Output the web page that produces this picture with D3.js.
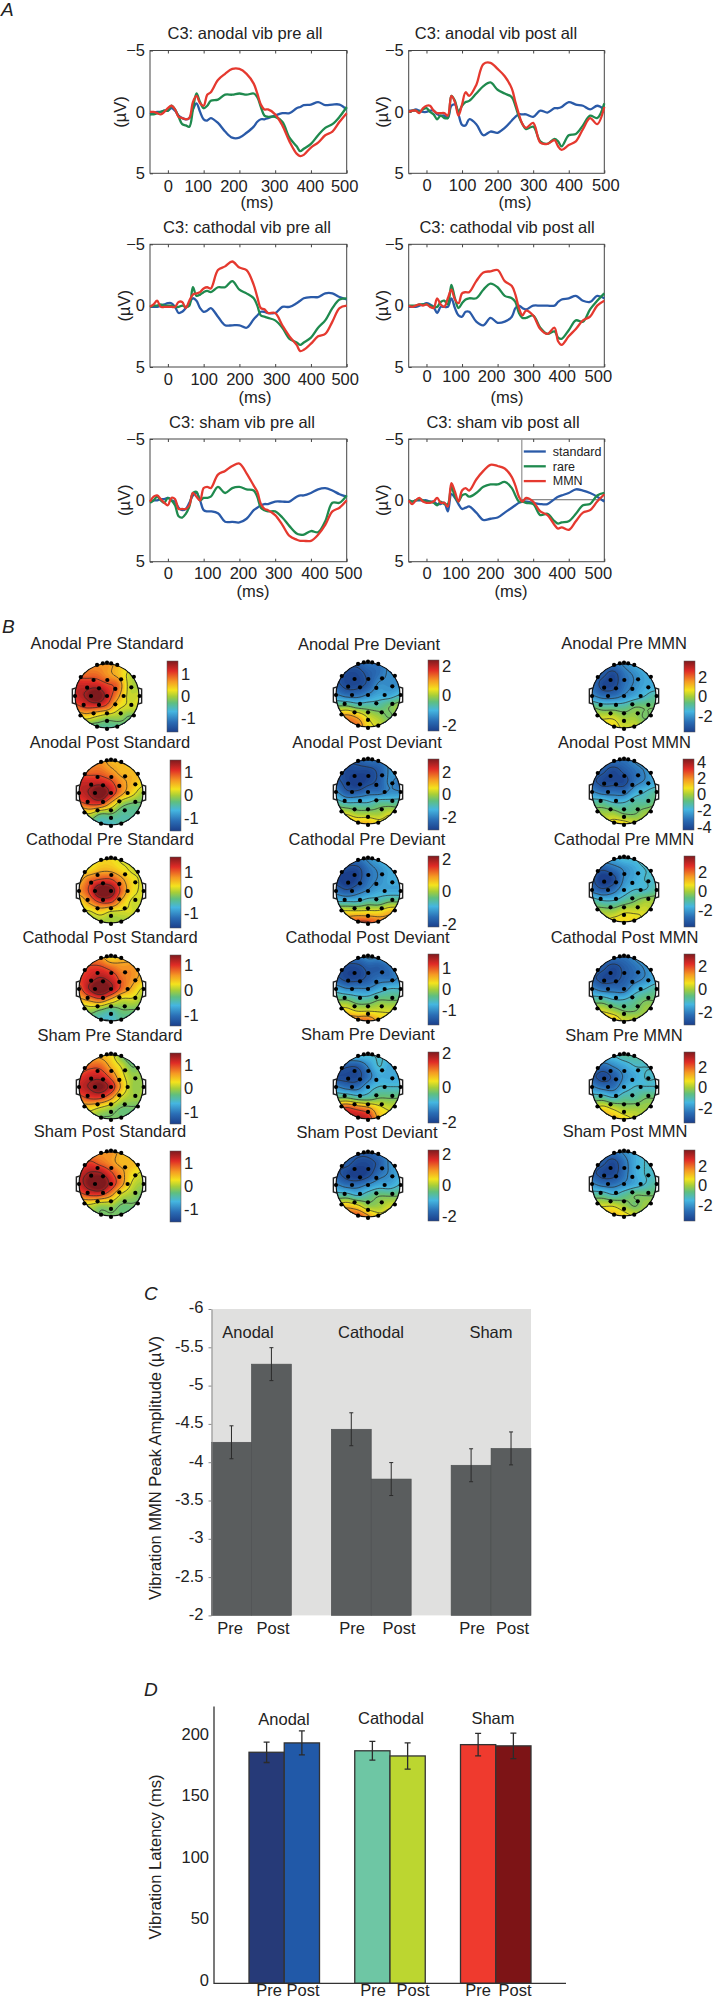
<!DOCTYPE html>
<html>
<head>
<meta charset="utf-8">
<script src="https://cdn.jsdelivr.net/npm/d3@7"></script>
<style>
    body { margin: 0; background: #fff; }
    svg text { font-family: "Liberation Sans", Arial, sans-serif; font-size: 16.5px; fill: #222; }
    svg text.letter { font-size: 19px; font-style: italic; }
    svg text.legend { font-size: 12.5px; }
</style>
</head>
<body>
<svg id="chart"></svg>
<script>
// panel A, time grid in ms, all traces below are read at these points
const times = [-50,-40,-30,-20,-10,0,10,20,30,40,50,60,70,80,90,100,110,120, 140,160,180,200,220,240, 250,260,270,280, 300,320,340,360, 370,380, 400,420,440,460,480,500];

const anodalPreStandard = [.2,.1,0,0,-.1,-.1,-.3,-.1,.3,.5,.6,.5,-.2,-.7,0,.6,.7,.5, .9,1.6,2.1,2.1,1.7,1.2, .8,.6,.6,.5, .3,.1,.1,-.3, -.4,-.55, -.6,-.8,-.55,-.6,-.6,-.2];
const anodalPreRare = [.2,.2,.1,0,-.1,-.1,-.5,-.2,.4,1.0,1.1,1.2,-.2,-1.5,-.8,-.3,-.5,-.9, -1.0,-1.4,-1.4,-1.5,-1.4,-1.5, -1.2,-.4,.3,.4, .4,.8,2.1,2.8, 3.2,3.0, 2.6,1.9,1.3,1.0,.4,-.4];
const anodalPreMmn = [0,0,.1,.2,0,-.3,-.5,-.2,.4,.5,.6,.5,-.8,-1.3,-.7,-.5,-1.4,-1.6, -2.6,-3.1,-3.5,-3.5,-3.1,-2.3, -1.5,-.6,-.2,-.2, .2,1.1,2.4,3.4, 3.6,3.5, 2.9,2.5,1.9,1.6,.8,.1];

const anodalPostStandard = [-.1,-.1,-.2,-.1,0,0,-.1,-.1,.2,.3,.3,.5,-.5,-.6,.2,1.05,1.1,.6, 1.0,1.9,1.6,1.7,1.3,.7, .4,.2,.2,.2, .4,-.1,.05,-.3, -.3,-.4, -.8,-.6,-.5,-.2,-.5,-.2];
const anodalPostRare = [0,-.1,-.1,0,-.2,-.3,0,.2,.6,.3,.5,.5,-1.3,-.9,0,-.5,-.8,-.9, -1.5,-2.1,-2.4,-1.8,-1.5,-1.2, -.5,.4,1,1.4, 1.2,2.4,2.6,2.2, 2.4,2.8, 1.9,1.8,1.1,.3,.5,-.7];
const anodalPostMmn = [0,-.1,-.1,.1,-.3,-.5,-.5,-.1,.1,.1,.1,.3,-1.3,-.8,.3,-.6,-1.6,-1.3, -2.2,-3.9,-4.0,-3.5,-2.9,-1.9, -.8,.2,1.0,1.3, .9,2.5,2.6,2.3, 2.8,3.1, 2.7,2.4,1.4,.5,1,-.4];

const cathodalPreStandard = [.1,.1,.1,0,-.1,-.2,-.2,.1,.6,.5,.2,-.2,-.6,-.4,.2,.5,.4,.2, .9,1.6,1.6,1.6,1.8,1.1, .8,.5,.5,.6, .6,.1,.1,-.2, -.4,-.6, -.7,-.7,-1,-1,-.7,-.5];
const cathodalPreRare = [.1,0,0,-.1,0,0,0,.1,.1,0,.1,0,-1.5,-.8,-.9,-1.1,-1.2,-1.1, -1.5,-1.5,-2.0,-1.3,-1,-.6, 0,.8,.9,1.0, 1.2,1.8,2.7,3.0, 3.2,3.0, 2.6,1.8,1.2,.2,-.5,-.6];
const cathodalPreMmn = [.1,-.1,-.4,.1,.1,.1,.1,.1,-.3,-.3,.2,-.4,-.9,-1,-1.1,-1.4,-1.5,-1.4, -2.9,-3.2,-3.6,-3.1,-2.9,-1.7, -.7,.2,.3,.6, .6,1.6,2.5,3.2, 3.7,3.6, 3.1,2.5,2.3,1.3,.2,0];

const cathodalPostStandard = [.1,.1,.1,0,-.1,-.2,-.1,.1,.6,.1,.1,.1,-.6,.2,.8,.9,.5,.5, 1.3,1.6,1.0,1.4,1.3,.9, .2,0,.2,.3, 0,0,0,0, -.3,-.5, -.6,-.8,-.4,-.3,-.8,-.6];
const cathodalPostRare = [0,0,0,-.1,-.1,-.1,0,.1,.1,-.3,-.4,-.1,-1.7,-.6,.2,-.2,-.5,-.6, -.6,-1.3,-1.8,-1.5,-.8,-.6, -.3,.6,1.0,1.0, .8,1.8,2.3,2.1, 2.6,2.7, 2.0,1.2,1.3,.3,-.4,-1.0];
const cathodalPostMmn = [0,.1,0,-.1,0,-.1,.1,.2,-.6,-.1,.1,-.6,-1.3,-.5,-.2,-1,-1.1,-1.1, -2,-2.7,-2.8,-2.9,-2.0,-1.6, -.9,.2,.8,.4, .8,1.9,2.3,1.8, 2.9,3.2, 2.5,1.9,1.2,.9,0,-.4];

const shamPreStandard = [.1,0,0,-.1,-.1,-.2,0,.1,.6,.8,.7,.2,-.4,-.6,0,.8,.9,.9, 1.05,1.75,1.75,1.8,1.5,.8, .6,.4,.3,.3, .1,.1,.1,-.3, -.4,-.4, -.6,-.9,-1,-.8,-.5,-.3];
const shamPreRare = [.2,0,-.3,0,.2,-.2,0,.4,1.3,1.4,1.1,.5,-.6,-.7,0,-.2,-.2,-.3, -1.1,-.6,-1,-1.1,-.9,-.8, -.3,.6,.8,.9, .9,1.4,2.1,2.7, 2.8,2.8, 2.5,2.6,1.7,.2,.2,-.4];
const shamPreMmn = [.1,-.3,-.4,-.1,.2,.4,-.2,-.1,.7,.7,.7,.4,-.6,-.3,0,-1,-1.1,-1, -2.1,-2.4,-2.8,-3,-2.2,-1.2, -.7,.3,.7,.8, 1.2,2,2.9,3.2, 3.3,3.3, 3.3,2.8,2.0,.9,.6,0];

const shamPostStandard = [0,.1,0,0,0,0,.1,.1,.3,.3,.2,.9,-.5,-.2,.3,.7,.6,.5, 1,1.6,1.5,1.4,1.0,.6, .4,.2,.1,.1, .2,.3,.3,-.1, -.3,-.4, -.6,-.9,-.8,-.6,-.3,.1];
const shamPostRare = [0,.1,0,-.1,0,.1,.1,.2,.4,.1,.3,.3,-1.1,-.3,.1,-.4,-.5,-.3, -.6,-1.1,-1.3,-1.3,-1.5,-1, -.4,.1,.1,.2, .3,1.2,1.1,1.7, 1.9,1.8, 1.7,1.1,.4,.3,-.4,-.6];
const shamPostMmn = [0,.3,0,-.2,.1,.2,.2,.1,-.2,.2,.2,.5,-1.4,-.7,.1,-.8,-1,-.8, -1.7,-2.4,-2.9,-2.8,-2.6,-1.9, -1.2,-.3,.1,-.2, .1,.9,1.2,2, 2.3,2.2, 2.4,1.7,1,.8,.1,-.5];

const seriesNames = ['standard', 'rare', 'MMN'];
const seriesColors = ['#2a5aa8', '#1f8a4e', '#e5392f'];

const erpTitles = ['C3: anodal vib pre all', 'C3: anodal vib post all', 'C3: cathodal vib pre all', 'C3: cathodal vib post all', 'C3: sham vib pre all', 'C3: sham vib post all'];
const erpTraces = [
    [anodalPreStandard, anodalPreRare, anodalPreMmn],
    [anodalPostStandard, anodalPostRare, anodalPostMmn],
    [cathodalPreStandard, cathodalPreRare, cathodalPreMmn],
    [cathodalPostStandard, cathodalPostRare, cathodalPostMmn],
    [shamPreStandard, shamPreRare, shamPreMmn],
    [shamPostStandard, shamPostRare, shamPostMmn]
];

// panel B, colour level on each map in tenths of its colour bar, 7x7 over the head, top row first
const electrodes = [[-.31,-.97],[-.13,-1.02],[0,-1.04],[.13,-1.02],[.32,-.97],[-.82,-.59],[-.42,-.5],[.01,-.5],[.44,-.52],[.84,-.6],[-.62,-.26],[-.25,-.24],[.26,-.22],[.76,-.27],[-1,0],[-.5,0],[0,0],[.52,0],[1.02,0],[-.73,.28],[-.25,.28],[.26,.26],[.76,.28],[-.83,.61],[-.42,.54],[0,.54],[.43,.54],[.84,.61],[0,.78],[-.31,.96],[0,1.03],[.32,.96]];

const standardMaps = [
    [[4,4,4,4,3,2,1],[5,5,5,4,3,1,0],[7,7,7,6,5,1,0],[7,8,10,7,4,1,1],[5,6,6,5,2,1,1],[1,2,1,0,0,-1,-1],[-1,-2,-2,-2,-2,-1,-1]],
    [[4,4,4,3,3,2,1],[5,5,5,4,3,3,3],[7,7,7,6,4,3,2],[7,8,10,7,4,2,0],[5,6,6,3,0,-1,-1],[0,1,-1,-1,-2,-2,-2],[-2,-2,-3,-3,-2,-2,-2]],
    [[1,1,2,2,1,1,0],[2,2,3,3,2,1,1],[3,5,6,6,4,2,1],[4,6,10,9,5,2,1],[2,4,6,6,3,1,1],[1,1,2,1,1,1,0],[0,0,0,0,0,0,0]],
    [[4,4,4,2,3,3,3],[5,6,6,5,4,4,3],[6,7,8,7,5,4,3],[5,8,10,8,5,3,1],[3,4,5,3,1,1,0],[-1,0,-1,-2,-1,-1,-1],[-2,-2,-3,-3,-2,-2,-2]],
    [[3,3,3,2,-1,-2,0],[4,5,5,3,1,-1,0],[6,7,7,5,2,0,0],[7,8,9,7,3,0,0],[5,6,6,4,1,0,0],[2,2,1,0,-1,-1,-1],[0,0,-1,-1,-1,-1,-1]],
    [[4,4,4,4,3,2,1],[5,6,5,4,3,3,2],[7,8,8,6,4,2,1],[7,9,10,7,4,1,0],[5,6,6,4,1,0,-1],[1,1,0,0,-1,-1,-1],[0,0,-1,-1,-1,-1,-1]]
];
const deviantMaps = [
    [[-7,-7,-7,-6,-6,-5,-4],[-7,-8,-8,-7,-6,-5,-5],[-7,-8,-8,-7,-5,-5,-5],[-5,-6,-6,-5,-4,-4,-3],[-1,-1,-2,-2,-2,-1,0],[3,4,3,1,0,-1,0],[4,5,5,2,1,0,0]],
    [[-6,-7,-7,-6,-6,-5,-4],[-7,-8,-8,-8,-7,-5,-4],[-7,-8,-9,-8,-7,-5,-6],[-5,-7,-7,-6,-6,-5,-5],[-2,-3,-3,-3,-2,-2,-2],[1,1,0,0,0,1,0],[2,3,3,3,2,2,1]],
    [[-5,-6,-6,-5,-4,-3,-3],[-7,-8,-8,-6,-5,-4,-4],[-8,-9,-8,-6,-5,-4,-4],[-6,-7,-6,-5,-4,-4,-4],[-3,-3,-3,-2,-2,-1,-1],[2,2,2,2,2,3,3],[5,5,6,6,5,4,3]],
    [[-6,-6,-6,-5,-5,-4,-3],[-7,-8,-8,-7,-7,-6,-4],[-7,-8,-8,-7,-6,-6,-5],[-4,-5,-5,-5,-4,-3,-3],[-1,-1,-2,-2,-1,-1,-1],[2,2,1,1,1,1,1],[4,5,5,5,3,2,2]],
    [[-3,-3,-3,-3,-3,-3,-3],[-6,-7,-7,-5,-3,-4,-4],[-8,-8,-8,-6,-4,-4,-4],[-5,-6,-6,-4,-3,-3,-3],[-1,-1,-2,-2,-1,-1,-1],[5,6,5,4,2,1,1],[6,7,8,7,3,2,1]],
    [[-6,-6,-7,-7,-6,-5,-4],[-7,-7,-8,-8,-7,-5,-4],[-7,-8,-9,-8,-6,-5,-4],[-5,-6,-6,-5,-4,-4,-3],[-2,-2,-3,-2,-1,-1,-1],[2,3,2,0,0,1,1],[4,5,6,4,2,2,1]]
];
const mmnMaps = [
    [[-5,-6,-6,-5,-4,-3,-3],[-6,-7,-8,-6,-5,-4,-4],[-6,-8,-8,-6,-5,-4,-4],[-5,-6,-6,-5,-4,-3,-2],[-1,-2,-2,-2,-1,-1,-1],[1,1,1,0,0,-1,0],[1,2,2,1,1,0,0]],
    [[-5,-6,-6,-6,-5,-4,-3],[-6,-7,-8,-7,-6,-5,-3],[-7,-8,-8,-8,-6,-5,-4],[-5,-6,-6,-6,-4,-3,-2],[-2,-2,-3,-3,-2,-2,-1],[0,0,0,-1,-1,0,0],[1,1,2,2,1,0,0]],
    [[-4,-4,-4,-3,-3,-2,-2],[-6,-7,-6,-5,-4,-3,-3],[-7,-9,-8,-5,-4,-3,-3],[-6,-7,-6,-4,-3,-3,-2],[-2,-3,-3,-2,-1,0,0],[0,0,0,1,1,1,0],[1,1,2,2,2,1,1]],
    [[-5,-6,-6,-6,-5,-4,-3],[-6,-7,-8,-7,-6,-5,-4],[-7,-8,-8,-7,-6,-5,-4],[-5,-6,-6,-6,-4,-3,-2],[-2,-2,-3,-3,-2,-1,-1],[1,1,0,-1,-1,0,0],[2,3,3,1,1,0,0]],
    [[-3,-3,-3,-2,-2,-2,-2],[-5,-6,-5,-4,-3,-3,-3],[-7,-8,-7,-5,-4,-3,-3],[-5,-6,-6,-4,-3,-3,-3],[-2,-2,-3,-2,-2,-1,-1],[1,2,1,0,0,0,0],[2,3,3,2,1,0,0]],
    [[-5,-6,-6,-5,-4,-3,-3],[-6,-7,-8,-6,-4,-3,-3],[-7,-8,-8,-6,-4,-3,-3],[-5,-6,-6,-5,-4,-3,-2],[-2,-2,-3,-2,-1,-1,-1],[1,1,1,0,-1,0,0],[2,3,3,2,1,0,0]]
];
const mapRows = ['Anodal Pre', 'Anodal Post', 'Cathodal Pre', 'Cathodal Post', 'Sham Pre', 'Sham Post'];
const mapKinds = ['Standard', 'Deviant', 'MMN'];
// colour bar half range and labelled ticks, same order as the maps
const barMax = [[1.6,1.55,1.75,1.42,1.52,1.54], [2.4,3.15,2.2,1.7,2.05,2.28], [3.6,4.4,3.7,3.1,3.5,3.6]];
const barTicks = [
    [[-1,0,1],[-1,0,1],[-1,0,1],[-1,0,1],[-1,0,1],[-1,0,1]],
    [[-2,0,2],[-2,0,2],[-2,0,2],[-1,0,1],[-2,0,2],[-2,0,2]],
    [[-2,0,2],[-4,-2,0,2,4],[-2,0,2],[-2,0,2],[-2,0,2],[-2,0,2]]
];
const colourStops = [-1, -.72, -.42, -.18, 0, .18, .42, .72, 1];
const colourValues = ['#1b3f8b', '#2a6db5', '#45b6e0', '#5fbf7f', '#a6ce39', '#f4e31d', '#f59a23', '#e02b26', '#7e1a1e'];

// panels C and D
const barConditions = ['Anodal Pre', 'Anodal Post', 'gap1', 'Cathodal Pre', 'Cathodal Post', 'gap2', 'Sham Pre', 'Sham Post'];
const barGroups = ['Anodal', 'Cathodal', 'Sham'];
const peakConditions = ['Anodal Pre', 'Anodal Post', 'Cathodal Pre', 'Cathodal Post', 'Sham Pre', 'Sham Post'];
const peakAmplitude = [-4.26, -5.28, -4.43, -3.78, -3.96, -4.18];
const peakError = [.215, .215, .215, .215, .215, .215];
const peakTicks = [-6, -5.5, -5, -4.5, -4, -3.5, -3, -2.5, -2];
const latency = [187.8, 195.4, 189, 184.8, 194, 193];
const latencyError = [8.3, 9.8, 7.6, 10.7, 9.2, 10.3];
const latencyTicks = [0, 50, 100, 150, 200];
const latencyColors = ['#263a78', '#2159a8', '#6ec6a4', '#bcd630', '#ef3a2e', '#7d1416'];

const WIDTH = 713,
    HEIGHT = 2000;

const svg = d3.select('#chart')
    .attr('width', WIDTH)
    .attr('height', HEIGHT);

function letter(text, x, y) {
    svg.append('text').attr('class', 'letter').attr('x', x).attr('y', y).text(text);
}

function label(parent, text, x, y, rotate) {
    const node = parent.append('text')
        .attr('text-anchor', 'middle')
        .attr('dy', '.36em')
        .text(text);
    if (rotate) node.attr('transform', `translate(${x},${y}) rotate(-90)`);
    else node.attr('x', x).attr('y', y);
    return node;
}

letter('A', 1, 16);
letter('B', 2, 633);
letter('C', 144, 1300);
letter('D', 144, 1696);

// ---- panel A
// shift: how far the hand placed tick labels sit off their ticks in the figure
const erpBoxes = [
    { x0: 150, x1: 346.7, y0: 50.5, y1: 173.3, tx: 245, ty: 33, mx: 257, my: 202, ux: 120, pad: 7, shift: [0, -6, -6, -1, -1, -2.5] },
    { x0: 408.7, x1: 604.3, y0: 50.5, y1: 173.3, tx: 496, ty: 33, mx: 515, my: 202, ux: 382, pad: 6, shift: [0, 0, 0, 0, 0, 1] },
    { x0: 150, x1: 346.7, y0: 244.3, y1: 367, tx: 247, ty: 227, mx: 255, my: 397, ux: 124, pad: 6, shift: [0, 0, 0, 1, 0, -2] },
    { x0: 408.7, x1: 604.3, y0: 244.3, y1: 367, tx: 507, ty: 227, mx: 507, my: 397, ux: 382, pad: 3, shift: [0, -6.5, -6.5, -6.5, -7, -6.5] },
    { x0: 150, x1: 346.7, y0: 439, y1: 561.7, tx: 242, ty: 422, mx: 253, my: 591, ux: 124, pad: 6, shift: [0, 3.5, 3.5, 3, 3.5, 1.5] },
    { x0: 408.7, x1: 604.3, y0: 439, y1: 561.7, tx: 503, ty: 422, mx: 511, my: 591, ux: 382, pad: 6, shift: [0, -6.5, -7.5, -6.5, -7, -6.5] }
];

erpBoxes.forEach((box, i) => {
    const g = svg.append('g').attr('class', 'erp');
    const x = d3.scaleLinear().domain([-50, 500]).range([box.x0, box.x1]);
    const y = d3.scaleLinear().domain([-5, 5]).range([box.y0, box.y1]);

    label(g, erpTitles[i], box.tx, box.ty);
    label(g, '(ms)', box.mx, box.my);
    label(g, '(µV)', box.ux, (box.y0 + box.y1) / 2, true);

    g.append('rect')
        .attr('x', box.x0).attr('y', box.y0)
        .attr('width', box.x1 - box.x0).attr('height', box.y1 - box.y0)
        .attr('fill', 'none').attr('stroke', '#444').attr('stroke-width', 1);

    const xTicks = [0, 100, 200, 300, 400, 500];
    g.append('g')
        .attr('transform', `translate(0,${box.y1})`)
        .call(d3.axisBottom(x).tickValues(xTicks).tickSizeInner(-3).tickSizeOuter(0).tickPadding(box.pad))
        .call(a => a.select('.domain').remove())
        .call(a => a.selectAll('.tick text').attr('dx', (d, j) => box.shift[j]));
    g.append('g')
        .attr('transform', `translate(0,${box.y0})`)
        .call(d3.axisTop(x).tickValues(xTicks).tickSizeInner(-3).tickSizeOuter(0).tickFormat(''))
        .call(a => a.select('.domain').remove());
    g.append('g')
        .attr('transform', `translate(${box.x0},0)`)
        .call(d3.axisLeft(y).tickValues([-5, 0, 5]).tickSizeInner(-3).tickSizeOuter(0).tickPadding(5))
        .call(a => a.select('.domain').remove());
    g.selectAll('.tick line').attr('stroke', '#444');

    // legend sits only in the last plot
    if (i === 5) {
        const lx = x(268);
        g.append('path')
            .attr('d', `M${lx},${y(0)}V${box.y0}`)
            .attr('fill', 'none').attr('stroke', '#999').attr('stroke-width', 1.3);
        g.append('line')
            .attr('x1', lx).attr('x2', box.x1).attr('y1', y(-.05)).attr('y2', y(-.05))
            .attr('stroke', '#666').attr('stroke-width', 1);
        seriesNames.forEach((name, k) => {
            const ly = box.y0 + 12.5 + k * 14.8;
            g.append('line')
                .attr('x1', lx + 2).attr('x2', lx + 24).attr('y1', ly).attr('y2', ly)
                .attr('stroke', seriesColors[k]).attr('stroke-width', 2.3);
            g.append('text').attr('class', 'legend')
                .attr('x', lx + 31).attr('y', ly).attr('dy', '.34em').text(name);
        });
    }

    const line = d3.line()
        .x((d, j) => x(times[j]))
        .y(d => y(d))
        .curve(d3.curveCatmullRom);

    g.selectAll('path.trace')
        .data(erpTraces[i])
        .enter().append('path')
            .attr('class', 'trace')
            .attr('d', line)
            .attr('fill', 'none')
            .attr('stroke', (d, k) => seriesColors[k])
            .attr('stroke-width', 2.3)
            .attr('stroke-linejoin', 'round');
});

// ---- panel B
const mapLayout = [
    { title: [107,110,110,110,110,110], head: [107,111,111,111,111,111], bar: [167,170,170,170,170,170] },
    { title: [369,367,367,367.5,368,367], head: [368,368,368,368,368,368], bar: [428,428,428,428,428,428] },
    { title: [624,624.5,624,624.5,624,625], head: [624,624,624,624,624,624], bar: [684,683,684,684,684,684] }
];
const titleY = [[643,742,839,937,1035,1131], [644,742,839,937,1034,1132], [643,742,839,937,1035,1131]];
const headY = [[696,793,891,989,1087,1184], [695,792,891,989,1087,1185], [696,792,890,989,1087,1184]];
const barY = [[661,760,857,955,1053,1151], [660,759,856,954,1052,1150], [661,759,856,954,1052,1150]];

const HEAD_R = 32,
    BAR_W = 11,
    BAR_H = 71,
    GRID_N = 49,
    GRID_SPAN = 1.2,
    LEVEL_GAIN = 1.15;

const colour = d3.scaleLinear().domain(colourStops).range(colourValues).clamp(true);

const defs = svg.append('defs');
const gradient = defs.append('linearGradient')
    .attr('id', 'jet').attr('x1', 0).attr('x2', 0).attr('y1', 1).attr('y2', 0);
gradient.selectAll('stop')
    .data(colourStops)
    .enter().append('stop')
        .attr('offset', d => (d + 1) / 2)
        .attr('stop-color', (d, i) => colourValues[i]);

function catmull(p0, p1, p2, p3, t) {
    return .5 * (2 * p1 + (p2 - p0) * t + (2 * p0 - 5 * p1 + 4 * p2 - p3) * t * t + (3 * p1 - p0 - 3 * p2 + p3) * t * t * t);
}

// smooth the coarse 7x7 reading onto a fine grid so d3.contours can trace it
function upsample(grid) {
    const values = new Array(GRID_N * GRID_N);
    const at = (r, c) => LEVEL_GAIN * grid[Math.max(0, Math.min(6, r))][Math.max(0, Math.min(6, c))] / 10;
    const pos = d3.scaleLinear().domain([0, GRID_N - 1]).range([-GRID_SPAN, GRID_SPAN]);
    for (let j = 0; j < GRID_N; j++) {
        const gy = (pos(j) + 1) * 3,
            r = Math.floor(gy),
            ty = gy - r;
        for (let i = 0; i < GRID_N; i++) {
            const gx = (pos(i) + 1) * 3,
                c = Math.floor(gx),
                tx = gx - c;
            const rows = [-1, 0, 1, 2].map(k => catmull(at(r + k, c - 1), at(r + k, c), at(r + k, c + 1), at(r + k, c + 2), tx));
            values[j * GRID_N + i] = catmull(rows[0], rows[1], rows[2], rows[3], ty);
        }
    }
    return values;
}

function drawMap(parent, grid, cx, cy, id) {
    const values = upsample(grid);
    const toPx = d3.scaleLinear().domain([.5, GRID_N - .5]).range([-GRID_SPAN * HEAD_R, GRID_SPAN * HEAD_R]);
    const path = d3.geoPath().projection(d3.geoTransform({
        point(x, y) { this.stream.point(cx + toPx(x), cy + toPx(y)); }
    }));

    [-1, 1].forEach(side => {
        const ear = d3.path();
        const ex = cx + side * HEAD_R * .97,
            ew = side * 3.6;
        ear.moveTo(ex, cy - 8);
        ear.lineTo(ex + ew, cy - 7);
        ear.lineTo(ex + ew, cy + 7);
        ear.lineTo(ex, cy + 8);
        parent.append('path')
            .attr('d', ear.toString())
            .attr('fill', '#fff').attr('stroke', '#222').attr('stroke-width', 1.4);
    });

    defs.append('clipPath').attr('id', id)
        .append('circle').attr('cx', cx).attr('cy', cy).attr('r', HEAD_R);
    const inner = parent.append('g').attr('clip-path', `url(#${id})`);

    inner.selectAll('path.fill')
        .data(d3.contours().size([GRID_N, GRID_N]).thresholds(d3.range(-1.6, 1.6, .04))(values))
        .enter().append('path')
            .attr('class', 'fill')
            .attr('d', path)
            .attr('fill', d => colour(d.value));
    inner.selectAll('path.iso')
        .data(d3.contours().size([GRID_N, GRID_N]).thresholds(d3.range(-.85, 1.1, .25))(values))
        .enter().append('path')
            .attr('class', 'iso')
            .attr('d', path)
            .attr('fill', 'none')
            .attr('stroke', '#2a2a2a')
            .attr('stroke-width', .7);

    parent.append('circle')
        .attr('cx', cx).attr('cy', cy).attr('r', HEAD_R)
        .attr('fill', 'none').attr('stroke', '#111').attr('stroke-width', 1.2);
    parent.selectAll('circle.dot')
        .data(electrodes)
        .enter().append('circle')
            .attr('class', 'dot')
            .attr('cx', d => cx + d[0] * HEAD_R)
            .attr('cy', d => cy + d[1] * HEAD_R)
            .attr('r', 2.1)
            .attr('fill', '#000');
}

[standardMaps, deviantMaps, mmnMaps].forEach((maps, col) => {
    const layout = mapLayout[col];
    maps.forEach((grid, row) => {
        const g = svg.append('g').attr('class', 'topo');
        label(g, `${mapRows[row]} ${mapKinds[col]}`, layout.title[row], titleY[col][row]);
        drawMap(g, grid, layout.head[row], headY[col][row], `head-${col}-${row}`);

        const bx = layout.bar[row],
            by = barY[col][row],
            range = barMax[col][row];
        g.append('rect')
            .attr('x', bx).attr('y', by).attr('width', BAR_W).attr('height', BAR_H)
            .attr('fill', 'url(#jet)').attr('stroke', '#555').attr('stroke-width', .5);
        const scale = d3.scaleLinear().domain([-range, range]).range([by + BAR_H, by]);
        g.append('g')
            .attr('transform', `translate(${bx + BAR_W},0)`)
            .call(d3.axisRight(scale).tickValues(barTicks[col][row]).tickSize(0).tickPadding(3).tickFormat(d => String(d)))
            .call(a => a.select('.domain').remove());
    });
});

// ---- panel C
const peakX = d3.scaleBand().domain(barConditions).range([211.5, 531]);
const peakY = d3.scaleLinear().domain([-2, -6]).range([1615.4, 1309]);

const peak = svg.append('g').attr('class', 'peak');
peak.append('rect')
    .attr('x', peakX.range()[0]).attr('y', peakY(-6))
    .attr('width', peakX.range()[1] - peakX.range()[0]).attr('height', peakY(-2) - peakY(-6))
    .attr('fill', '#e0e0df');
peak.selectAll('rect.bar')
    .data(peakAmplitude)
    .enter().append('rect')
        .attr('class', 'bar')
        .attr('x', (d, i) => peakX(peakConditions[i]))
        .attr('y', d => peakY(d))
        .attr('width', peakX.bandwidth())
        .attr('height', d => peakY(-2) - peakY(d))
        .attr('fill', '#5a5d5e')
        .attr('stroke', '#4a4c4d')
        .attr('stroke-width', .6);

function errorBars(parent, values, errors, conditions, x, y, capW, sw) {
    values.forEach((v, i) => {
        const cx = x(conditions[i]) + x.bandwidth() / 2,
            top = y(v >= 0 ? v + errors[i] : v - errors[i]),
            bottom = y(v >= 0 ? v - errors[i] : v + errors[i]);
        parent.append('path')
            .attr('d', `M${cx},${top}V${bottom}M${cx - capW},${top}H${cx + capW}M${cx - capW},${bottom}H${cx + capW}`)
            .attr('fill', 'none').attr('stroke', '#2b2b2b').attr('stroke-width', sw);
    });
}
errorBars(peak, peakAmplitude, peakError, peakConditions, peakX, peakY, 2, 1);

peak.append('g')
    .attr('transform', `translate(${peakX.range()[0]},0)`)
    .call(d3.axisLeft(peakY).tickValues(peakTicks).tickSizeInner(3).tickSizeOuter(0).tickPadding(5).tickFormat(d => String(d)))
    .call(a => a.select('.domain').attr('stroke', '#888'))
    .call(a => a.selectAll('.tick line').attr('stroke', '#888'))
    .call(a => a.selectAll('.tick text').attr('dy', '.24em'));

label(peak, 'Vibration MMN Peak Amplitude (µV)', 155, 1468, true);
[[barGroups[0], 248], [barGroups[1], 371], [barGroups[2], 491]].forEach(d => label(peak, d[0], d[1], 1332));
[['Pre', 230], ['Post', 273], ['Pre', 352], ['Post', 399], ['Pre', 472], ['Post', 512.5]]
    .forEach(d => label(peak, d[0], d[1], 1628));

// ---- panel D
const latX = d3.scaleBand().domain(barConditions).range([249, 531]);
const latY = d3.scaleLinear().domain([0, 225]).range([1983.3, 1706.5]);

const lat = svg.append('g').attr('class', 'latency');
lat.selectAll('rect.bar')
    .data(latency)
    .enter().append('rect')
        .attr('class', 'bar')
        .attr('x', (d, i) => latX(peakConditions[i]))
        .attr('y', d => latY(d))
        .attr('width', latX.bandwidth())
        .attr('height', d => latY(0) - latY(d))
        .attr('fill', (d, i) => latencyColors[i])
        .attr('stroke', '#333')
        .attr('stroke-width', 1.3);
errorBars(lat, latency, latencyError, peakConditions, latX, latY, 3, 1.3);

lat.append('path')
    .attr('d', `M214,${latY(225)}V${latY(0)}H566`)
    .attr('fill', 'none').attr('stroke', '#333').attr('stroke-width', 1.3);
lat.append('g')
    .attr('transform', 'translate(214,0)')
    .call(d3.axisLeft(latY).tickValues(latencyTicks).tickSize(0).tickPadding(5))
    .call(a => a.select('.domain').remove())
    .call(a => a.selectAll('.tick text').attr('dy', '.12em'));

label(lat, 'Vibration Latency (ms)', 155, 1857, true);
[[barGroups[0], 284, 1719], [barGroups[1], 391, 1718], [barGroups[2], 493, 1718]].forEach(d => label(lat, d[0], d[1], d[2]));
[['Pre', 269], ['Post', 303], ['Pre', 373], ['Post', 413], ['Pre', 478], ['Post', 515]]
    .forEach(d => label(lat, d[0], d[1], 1990.5));
</script>
</body>
</html>
